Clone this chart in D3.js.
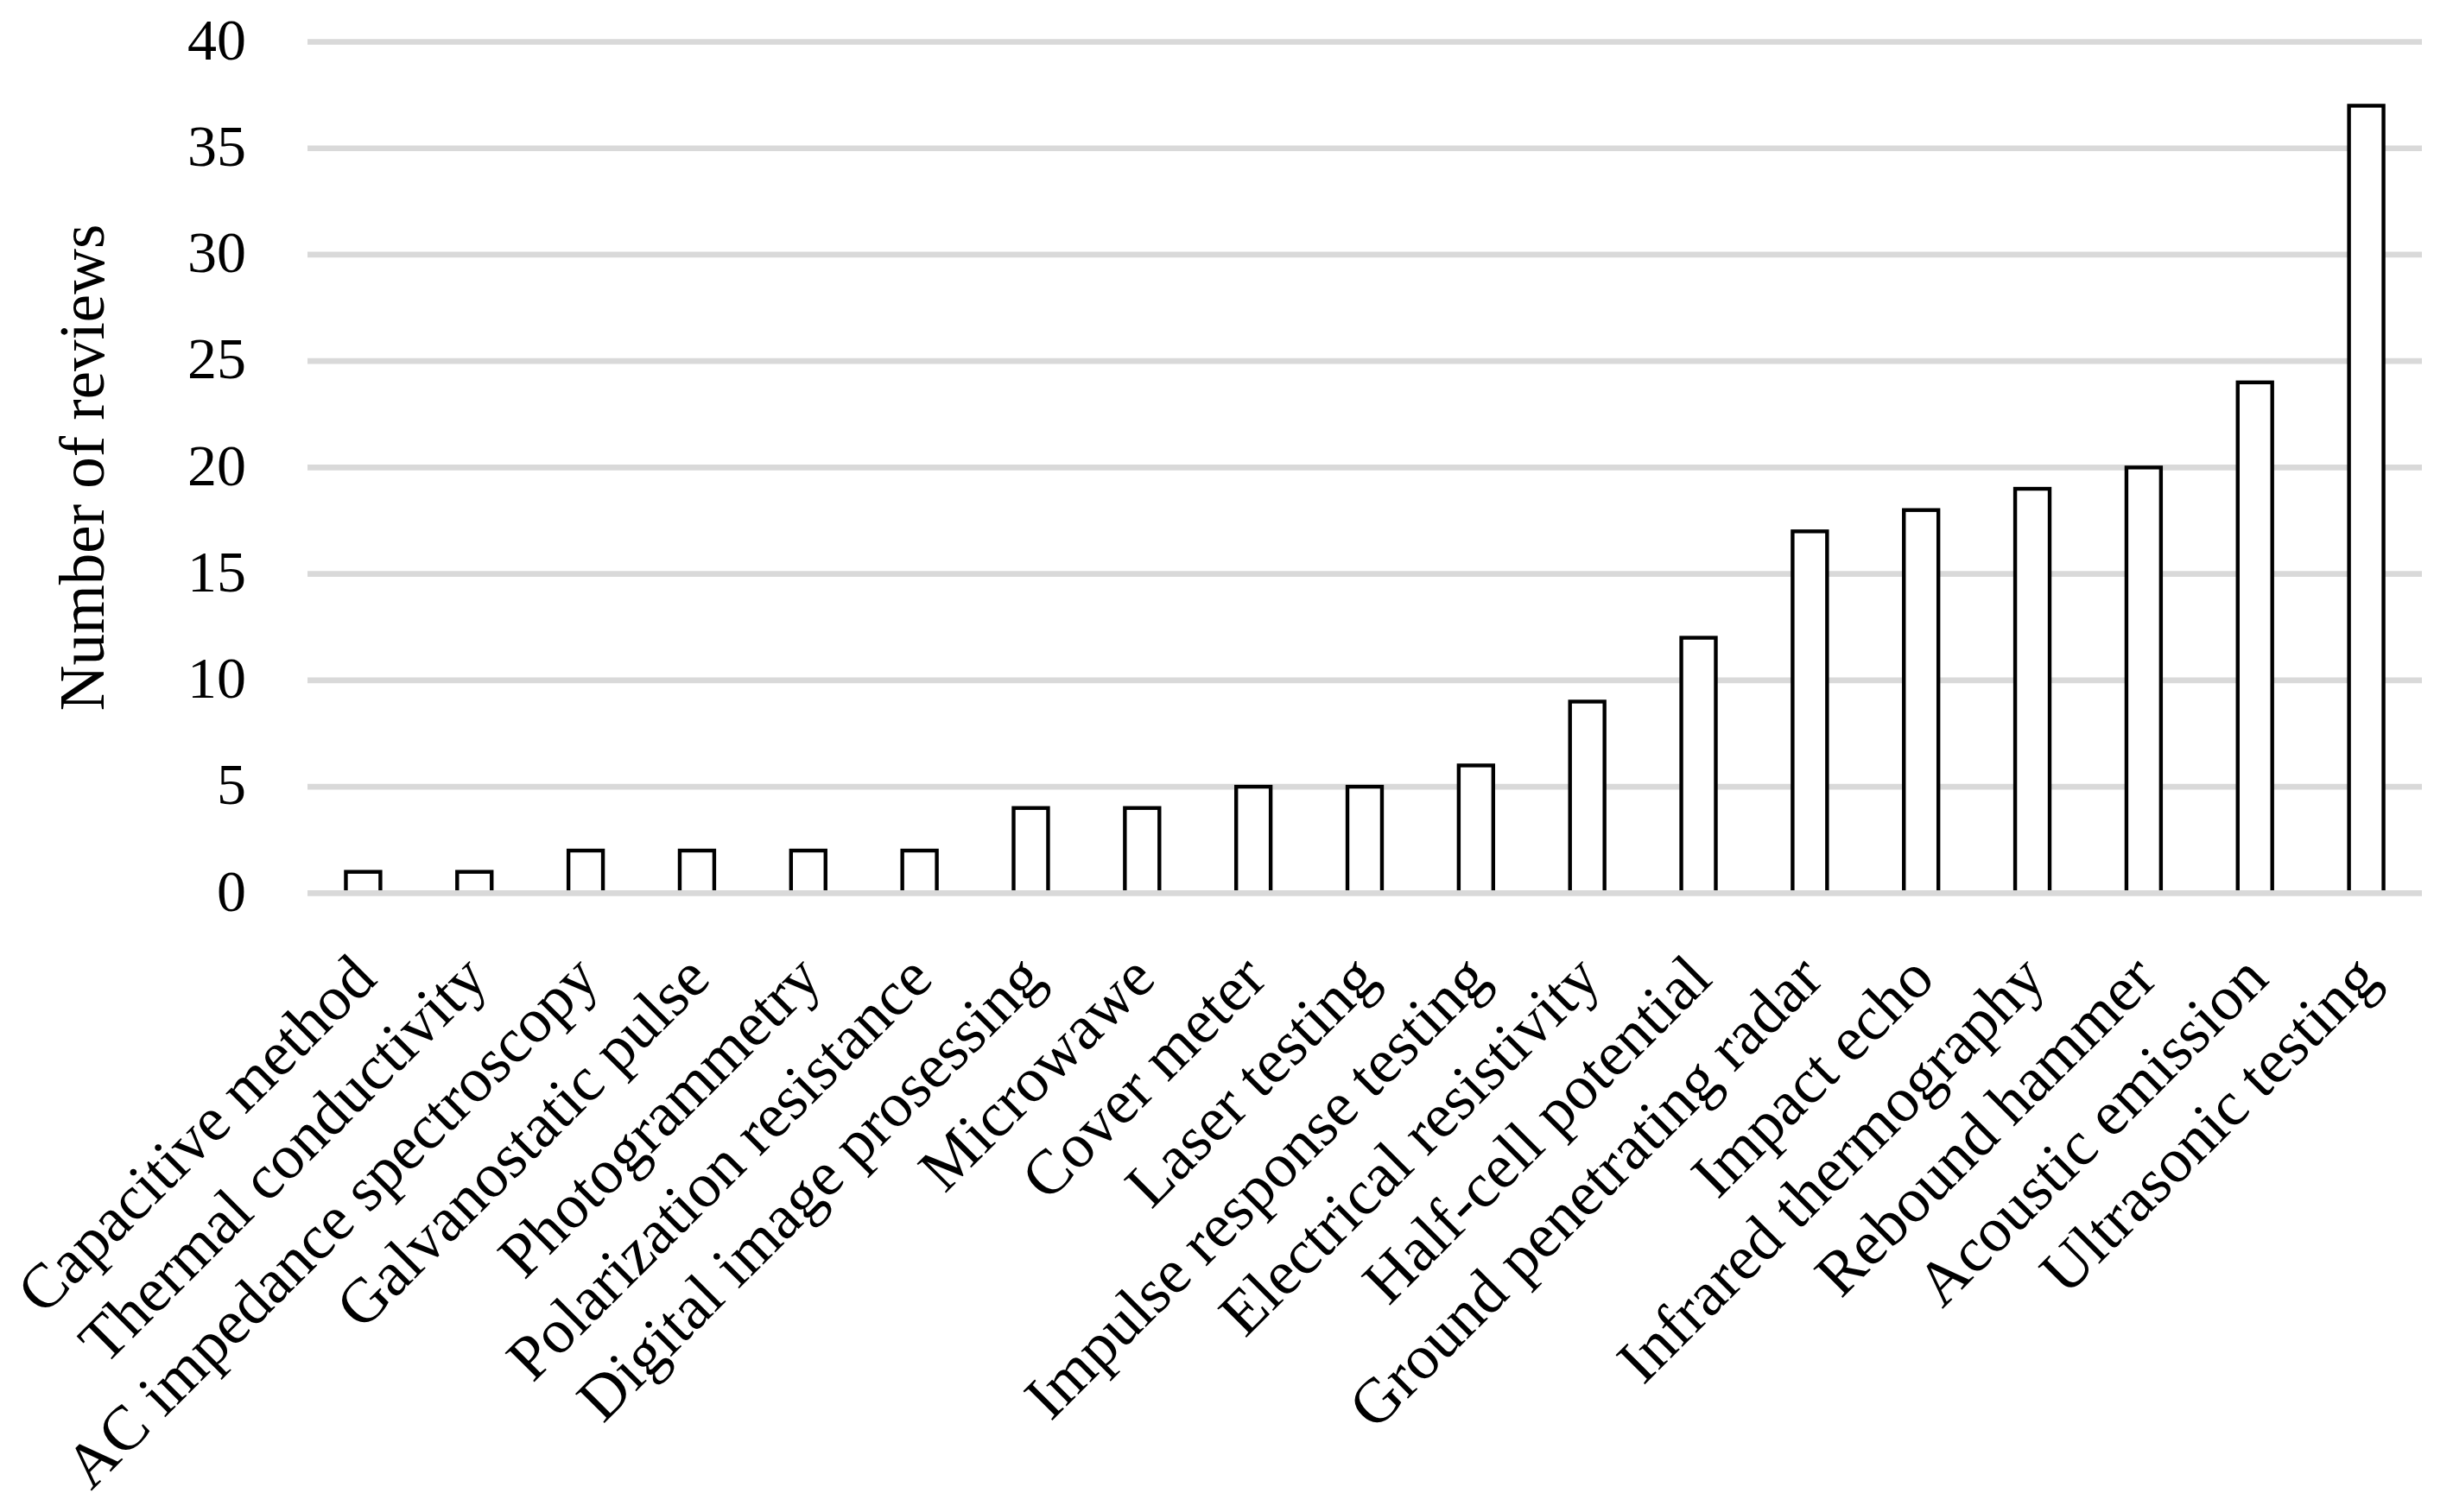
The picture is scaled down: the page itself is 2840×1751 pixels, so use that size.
<!DOCTYPE html>
<html>
<head>
<meta charset="utf-8">
<script src="https://cdn.jsdelivr.net/npm/d3@7"></script>
<style>
  html, body { margin: 0; padding: 0; background: #fff; }
  svg { display: block; }
  text { font-family: "Liberation Serif", "Times New Roman", serif; fill: #000; }
</style>
</head>
<body>
<svg id="chart" width="2840" height="1751"></svg>
<script>
const categories = [
  "Capacitive method", "Thermal conductivity", "AC impedance spectroscopy",
  "Galvanostatic pulse", "Photogrammetry", "Polarization resistance",
  "Digital image prosessing", "Microwawe", "Cover meter", "Laser testing",
  "Impulse response testing", "Electrical resistivity", "Half-cell potential",
  "Ground penetrating radar", "Impact echo", "Infrared thermography",
  "Rebound hammer", "Acoustic emission", "Ultrasonic testing"
];
const reviews = [1, 1, 2, 2, 2, 2, 4, 4, 5, 5, 6, 9, 12, 17, 18, 19, 20, 24, 37];
const yTicks = [0, 5, 10, 15, 20, 25, 30, 35, 40];
const yTitle = "Number of reviews";

(function () {
const svg = d3.select("#chart");
const plotLeft = 356, plotRight = 2804, plotTop = 48.5, plotBottom = 1034.3;

const x = d3.scaleBand()
  .domain(categories)
  .range([plotLeft, plotRight])
  .paddingInner(0.69)
  .paddingOuter(0.345);

const y = d3.scaleLinear().domain([0, 40]).range([plotBottom, plotTop]);

// gridlines
svg.append("g").selectAll("line")
  .data(yTicks.filter(d => d !== 0))
  .join("line")
  .attr("x1", plotLeft).attr("x2", plotRight)
  .attr("y1", d => y(d)).attr("y2", d => y(d))
  .attr("stroke", "#d9d9d9").attr("stroke-width", 6.7);

// bars
svg.append("g").selectAll("rect")
  .data(reviews)
  .join("rect")
  .attr("x", (d, i) => x(categories[i]))
  .attr("width", x.bandwidth())
  .attr("y", d => y(d))
  .attr("height", d => y(0) - y(d))
  .attr("fill", "#fff")
  .attr("stroke", "#000")
  .attr("stroke-width", 4.4)
  .attr("stroke-linejoin", "miter");

// zero line on top
svg.append("line")
  .attr("x1", plotLeft).attr("x2", plotRight)
  .attr("y1", y(0)).attr("y2", y(0))
  .attr("stroke", "#d9d9d9").attr("stroke-width", 6.7);

// y axis tick labels
const yAxis = d3.axisLeft(y).tickValues(yTicks).tickSize(0).tickPadding(0);
const ya = svg.append("g").attr("transform", "translate(285,0)").call(yAxis);
ya.select(".domain").remove();
ya.selectAll("text")
  .attr("font-family", "Liberation Serif")
  .attr("font-size", 68)
  .attr("dy", "0.29em")
  .attr("x", 0);

// x axis labels
const xAxis = d3.axisBottom(x).tickSize(0).tickPadding(0);
const xa = svg.append("g").attr("transform", `translate(0,${plotBottom + 84})`).call(xAxis);
xa.select(".domain").remove();
xa.selectAll(".tick text")
  .attr("font-family", "Liberation Serif")
  .attr("font-size", 73)
  .attr("text-anchor", "end")
  .attr("y", 0)
  .attr("dy", "0.35em")
  .attr("transform", "rotate(-45)");

// y title
svg.append("text")
  .attr("transform", `translate(120,${(plotTop + plotBottom) / 2}) rotate(-90)`)
  .attr("text-anchor", "middle")
  .attr("font-size", 73)
  .text(yTitle);
})();
</script>
</body>
</html>
